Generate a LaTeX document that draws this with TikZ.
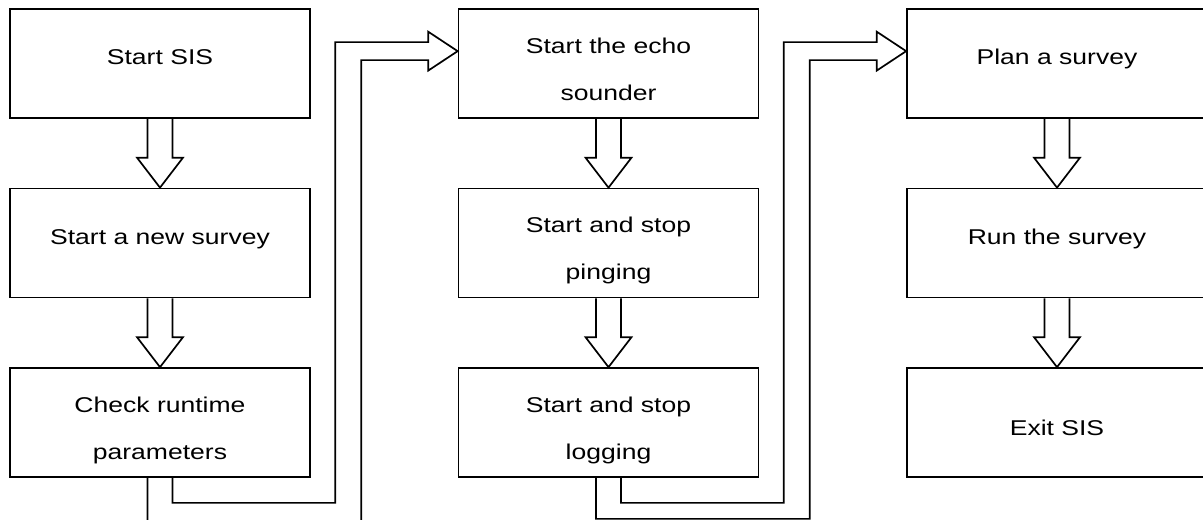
\documentclass[tikz,border=0pt]{standalone}
\usepackage{fontspec}
\setmainfont{Liberation Sans}[FakeStretch=1.24]
\usetikzlibrary{positioning,calc}

\begin{document}
\begin{tikzpicture}[x=0.5pt,y=-0.5pt,node distance=89.75pt and 224.25pt,on grid,
	task/.style={draw,line width=0.85pt,minimum width=150pt,minimum height=54.5pt,
		inner sep=0pt,font=\fontsize{10.7}{23.5}\selectfont,text height=9.5pt,text depth=8pt},
	twoline/.style={task,align=center,text height=40pt,text depth=3.5pt},
	blockarrow/.style={line width=0.85pt}]
\useasboundingbox (0,0) rectangle (1203,519);

% first column
\node[task] (sis) at (160,63.5) {Start SIS};
\node[task] (newsurvey) [below=of sis] {Start a new survey};
\node[twoline] (runtime) [below=of newsurvey] {Check runtime\\parameters};
% second column
\node[twoline] (echo) [right=of sis] {Start the echo\\sounder};
\node[twoline] (pinging) [below=of echo] {Start and stop\\pinging};
\node[twoline] (logging) [below=of pinging] {Start and stop\\logging};
% third column
\node[task] (plan) [right=of echo] {Plan a survey};
\node[task] (run) [below=of plan] {Run the survey};
\node[task,text height=20.5pt] (exit) [below=of run] {Exit SIS};

% block arrows down each column
\foreach \a/\b in {sis/newsurvey,newsurvey/runtime,echo/pinging,pinging/logging,plan/run,run/exit}
	\draw[blockarrow] ($(\a.south)+(-12.5,0)$) -- ($(\b.north)+(-12.5,-30)$) -- ($(\b.north)+(-23,-30)$)
		-- (\b.north) -- ($(\b.north)+(23,-30)$) -- ($(\b.north)+(12.5,-30)$) -- ($(\a.south)+(12.5,0)$);

% block arrows from one column to the next
\foreach \a/\b/\d in {runtime/echo/44,logging/plan/41}{
	\coordinate (tip) at ($(\b.north west)+(0,43)$);
	\draw[blockarrow] ($(\a.south)+(-12.5,0)$) -- ++(0,\d) -| ($(tip)+(-96.5,9)$) -- ($(tip)+(-29.5,9)$)
		-- ($(tip)+(-29.5,19.5)$) -- (tip) -- ($(tip)+(-29.5,-19.5)$) -- ($(tip)+(-29.5,-9)$)
		-- ($(tip)+(-122.5,-9)$) |- ($(\a.south)+(12.5,25)$) -- ($(\a.south)+(12.5,0)$);
}
\end{tikzpicture}
\end{document}
